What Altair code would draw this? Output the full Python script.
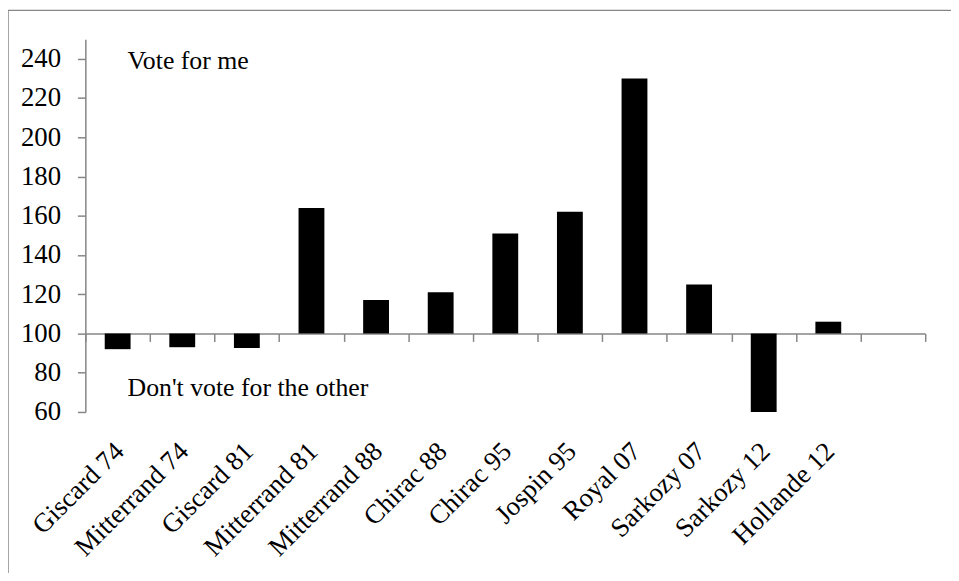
import altair as alt
import pandas as pd

candidates = ["Giscard 74", "Mitterrand 74", "Giscard 81", "Mitterrand  81", "Mitterrand 88",
              "Chirac 88", "Chirac 95", "Jospin 95", "Royal 07", "Sarkozy 07", "Sarkozy 12", "Hollande 12"]
values = [92, 93, 92.6, 164, 117, 121, 151, 162, 230, 125, 60, 106]
y_ticks = [60, 80, 100, 120, 140, 160, 180, 200, 220, 240]
note_top = "Vote for me"
note_bottom = "Don't vote for the other"

df = pd.DataFrame({"candidate": candidates, "value": values})
x_domain = candidates + [" "]
one = pd.DataFrame({"a": [0]})

FONT = "Liberation Serif"
GRAY = "#868686"
W, H = 847, 376

xscale = alt.Scale(domain=x_domain, paddingInner=0, paddingOuter=0)
yscale = alt.Scale(domain=[60, 250], nice=False, zero=False)

yaxis = alt.Axis(values=y_ticks, grid=False, domainColor=GRAY, tickColor=GRAY, tickSize=8,
                 domainWidth=1.5, tickWidth=1.5,
                 labelPadding=17, labelFont=FONT, labelFontSize=27, labelColor="black", title=None)

bars = alt.Chart(df).mark_bar(color="black", width=alt.RelativeBandSize(0.4)).encode(
    x=alt.X("candidate:N", scale=xscale, sort=x_domain,
            axis=alt.Axis(orient="bottom", domain=False, ticks=False, labelAngle=-45,
                          labelAlign="right", labelBaseline="top", labelPadding=26, labelOffset=-7,
                          labelFont=FONT, labelFontSize=27, labelColor="black", title=None,
                          labelOverlap=False, labelLimit=300)),
    y=alt.Y("value:Q", scale=yscale, axis=yaxis),
    y2=alt.Y2(datum=100),
)

base_axis = alt.Chart(df).mark_bar(opacity=0).encode(
    x=alt.X("candidate:N", scale=xscale, sort=x_domain,
            axis=alt.Axis(orient="bottom", labels=False, domain=True, ticks=True, tickBand="extent",
                          domainColor=GRAY, tickColor=GRAY, tickSize=8, domainWidth=1.5,
                          tickWidth=1.5, offset=-H * 40 / 190, title=None)),
    y=alt.Y("value:Q", scale=yscale, axis=yaxis),
    y2=alt.Y2(datum=100),
)

txt_top = alt.Chart(one).mark_text(align="left", baseline="alphabetic", dx=10, font=FONT,
                                   fontSize=26, color="black").encode(
    x=alt.X(datum=candidates[0], scale=xscale, axis=None),
    y=alt.Y(datum=234.7, scale=yscale, axis=yaxis),
    text=alt.value(note_top))
txt_bot = alt.Chart(one).mark_text(align="left", baseline="alphabetic", dx=10, font=FONT,
                                   fontSize=26, color="black").encode(
    x=alt.X(datum=candidates[0], scale=xscale, axis=None),
    y=alt.Y(datum=68, scale=yscale, axis=yaxis),
    text=alt.value(note_bottom))

frame_top = alt.Chart(one).mark_rule(color=GRAY, strokeWidth=1.5).encode(
    x=alt.value(-78), x2=alt.value(W + 40), y=alt.value(-29))
frame_left = alt.Chart(one).mark_rule(color=GRAY, strokeWidth=1.5).encode(
    x=alt.value(-78), y=alt.value(-29), y2=alt.value(H + 200))

chart = alt.layer(frame_top, frame_left, bars, base_axis, txt_top, txt_bot).resolve_axis(
    x="independent"
).properties(
    width=W, height=H,
    background="white",
    autosize=alt.AutoSizeParams(type="none"),
    padding={"left": 78, "top": 29, "right": 26, "bottom": 160},
).configure_view(strokeWidth=0, stroke="transparent")

chart.save("out.html", embed_options={"renderer": "svg", "actions": False})
